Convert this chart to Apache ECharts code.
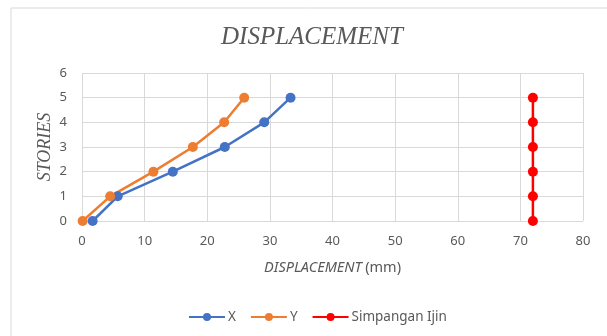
<!DOCTYPE html>
<html>
<head>
<meta charset="utf-8">
<script src="https://cdn.jsdelivr.net/npm/echarts@6/dist/echarts.min.js"></script>
<style>
  html, body { margin: 0; padding: 0; background: #fff; }
  #chart { width: 607px; height: 336px; }
</style>
</head>
<body>
<div id="chart"></div>
<script>
// stories (y) and displacement (mm)
const stories = [0, 1, 2, 3, 4, 5]
const dispX = [1.7, 5.7, 14.5, 22.8, 29.1, 33.3]
const dispY = [0.1, 4.5, 11.4, 17.7, 22.7, 25.9]
const allowed = [72, 72, 72, 72, 72, 72]

const toPairs = (xs) => xs.map((v, i) => [v, stories[i]])

const labelColor = '#595959'
const sans = 'Noto Sans'

const myChart = echarts.init(document.getElementById('chart'))
myChart.setOption({
  animation: false,
  backgroundColor: '#fff',
  graphic: [{
    type: 'rect',
    shape: { x: 11, y: 8, width: 620, height: 340 },
    style: { fill: 'none', stroke: '#d9d9d9', lineWidth: 1 },
    silent: true
  }],
  title: {
    text: 'DISPLACEMENT',
    left: 216,
    top: 20,
    textStyle: {
      fontFamily: 'Liberation Serif',
      fontStyle: 'italic',
      fontWeight: 'normal',
      fontSize: 25,
      color: labelColor
    }
  },
  legend: {
    bottom: 7,
    left: 183,
    itemWidth: 36,
    itemHeight: 10,
    itemGap: 14,
    textStyle: { fontFamily: sans, fontSize: 13.5, color: labelColor, padding: [0, 0, 0, -2] },
    data: ['X', 'Y', 'Simpangan Ijin']
  },
  grid: { left: 82, right: 24, top: 73, bottom: 115 },
  xAxis: {
    type: 'value',
    min: 0,
    max: 80,
    interval: 10,
    name: '{i|DISPLACEMENT} {n|(mm)}',
    nameLocation: 'middle',
    nameGap: 39,
    nameMoveOverlap: false,
    nameTextStyle: {
      rich: {
        i: { fontFamily: sans, fontStyle: 'italic', fontSize: 14.5, color: labelColor },
        n: { fontFamily: sans, fontSize: 14.5, color: labelColor }
      }
    },
    axisLine: { show: false },
    axisTick: { show: false },
    axisLabel: { fontFamily: sans, fontSize: 13, color: labelColor, margin: 14 },
    splitLine: { show: true, lineStyle: { color: '#d9d9d9', width: 1 } }
  },
  yAxis: {
    type: 'value',
    min: 0,
    max: 6,
    interval: 1,
    name: 'STORIES',
    nameLocation: 'middle',
    nameGap: 28,
    nameMoveOverlap: false,
    nameTextStyle: {
      fontFamily: 'Liberation Serif',
      fontStyle: 'italic',
      fontSize: 18,
      color: labelColor
    },
    axisLine: { show: false },
    axisTick: { show: false },
    axisLabel: { fontFamily: sans, fontSize: 13, color: labelColor, margin: 15 },
    splitLine: { show: true, lineStyle: { color: '#d9d9d9', width: 1 } }
  },
  series: [
    {
      name: 'X',
      type: 'line',
      data: toPairs(dispX),
      symbol: 'circle',
      symbolSize: 10,
      itemStyle: { color: '#4472c4' },
      lineStyle: { color: '#4472c4', width: 2.5 }
    },
    {
      name: 'Y',
      type: 'line',
      data: toPairs(dispY),
      symbol: 'circle',
      symbolSize: 10,
      itemStyle: { color: '#ed7d31' },
      lineStyle: { color: '#ed7d31', width: 2.5 }
    },
    {
      name: 'Simpangan Ijin',
      type: 'line',
      data: toPairs(allowed),
      symbol: 'circle',
      symbolSize: 10,
      itemStyle: { color: '#ff0000' },
      lineStyle: { color: '#ff0000', width: 2.5 }
    }
  ]
})
</script>
</body>
</html>
